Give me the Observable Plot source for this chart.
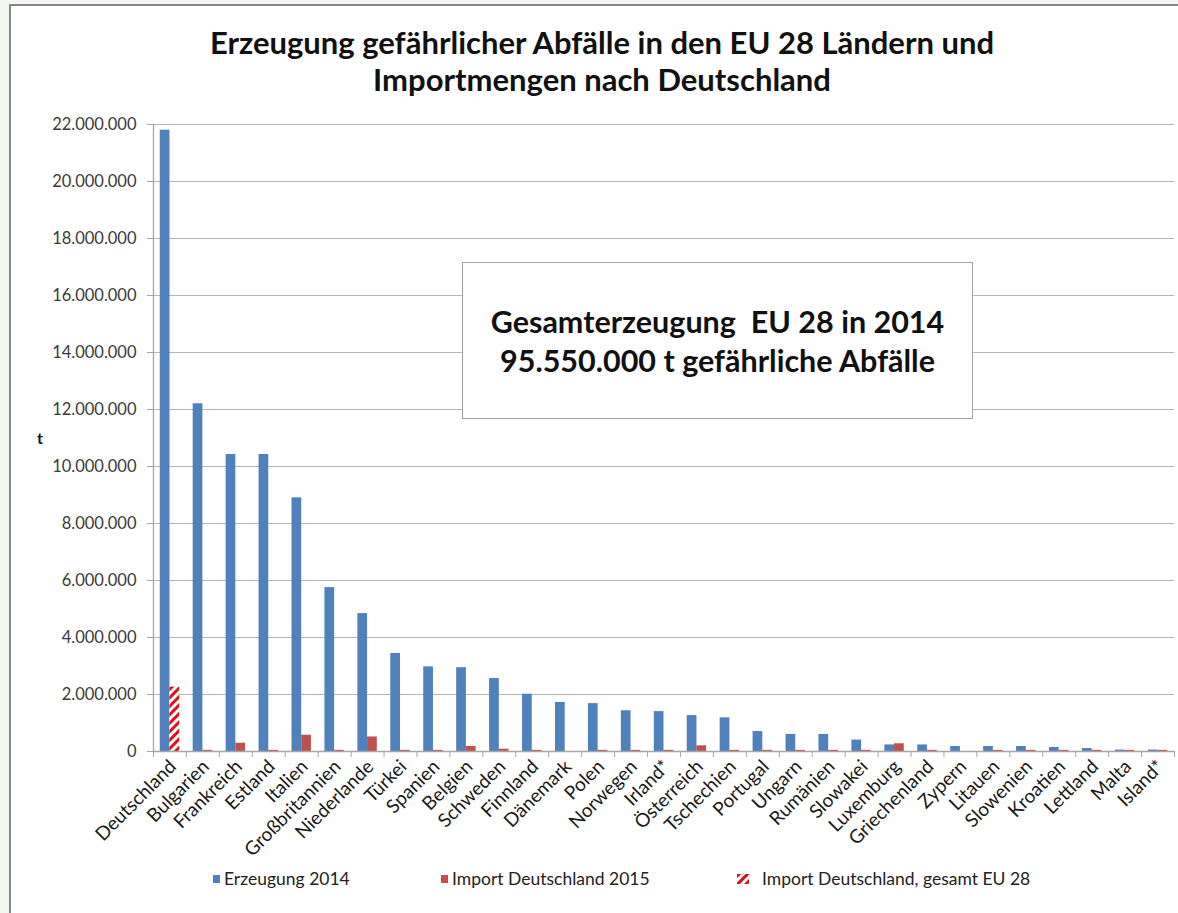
<!DOCTYPE html>
<html><head><meta charset="utf-8">
<script src="https://cdn.jsdelivr.net/npm/d3@7"></script>
<script src="https://cdn.jsdelivr.net/npm/@observablehq/plot@0.6"></script>
<style>
body{margin:0;background:#f3f6f1;font-family:Lato,sans-serif}
#page{position:relative;width:1178px;height:913px;overflow:hidden}
#frame{position:absolute;left:9px;top:4px;width:1200px;height:920px;background:#fff;border-left:2px solid #868686;border-top:2px solid #868686}
#title{position:absolute;left:0;width:1204px;top:24px;text-align:center;font-weight:700;font-size:31px;line-height:37px;color:#111}
#chart{position:absolute;left:0;top:110px}
#ylab{position:absolute;left:37px;top:428px;font-weight:700;font-size:16px;color:#111}
#box{position:absolute;left:462px;top:262px;width:509px;height:155px;border:1px solid #a0a0a0;background:#fff;box-sizing:content-box;display:flex;flex-direction:column;justify-content:center;align-items:center;font-weight:700;font-size:30.5px;line-height:39px;color:#111}
#legend{position:absolute;top:868px;left:0;width:1178px;height:24px;font-size:17.5px;color:#222}
.li{position:absolute;top:0;display:flex;align-items:center;white-space:nowrap}
.sw{display:inline-block;width:7px;height:8px;margin-right:4px}
</style></head>
<body><div id="page">
<div id="frame"></div>
<div id="title">Erzeugung gefährlicher Abfälle in den EU 28 Ländern und<br>Importmengen nach Deutschland</div>
<div id="chart"></div>
<div id="ylab">t</div>
<div id="box"><div>Gesamterzeugung&nbsp; EU 28 in 2014</div><div>95.550.000 t gefährliche Abfälle</div></div>
<div id="legend"></div>
</div>
<script>
const countries = ["Deutschland","Bulgarien","Frankreich","Estland","Italien","Großbritannien","Niederlande","Türkei","Spanien","Belgien","Schweden","Finnland","Dänemark","Polen","Norwegen","Irland*","Österreich","Tschechien","Portugal","Ungarn","Rumänien","Slowakei","Luxemburg","Griechenland","Zypern","Litauen","Slowenien","Kroatien","Lettland","Malta","Island*"];
const erzeugung2014 = [21800000,12200000,10420000,10420000,8900000,5750000,4840000,3440000,2970000,2940000,2560000,2010000,1720000,1680000,1430000,1400000,1260000,1180000,700000,600000,600000,400000,230000,230000,175000,175000,175000,140000,105000,50000,50000];
const import2015 = [null,40000,290000,40000,570000,40000,510000,40000,40000,175000,80000,40000,0,40000,40000,40000,200000,40000,40000,40000,40000,40000,270000,40000,0,40000,40000,40000,40000,40000,40000];
const importGesamtEU28 = [2260000];
const yTicks = [0,2000000,4000000,6000000,8000000,10000000,12000000,14000000,16000000,18000000,20000000,22000000];
const seriesNames = ["Erzeugung 2014","Import Deutschland 2015","Import Deutschland, gesamt EU 28"];
const colors = ["#4f81bd","#c0504d","#e01010"];

const rows = countries.map((c,i)=>({country:c, erz:erzeugung2014[i], imp:import2015[i]}));
const hatchRows = importGesamtEU28.map((v,i)=>({country:countries[i], v}));
const fmt = d3.formatLocale({decimal:",",thousands:".",grouping:[3],currency:["",""]}).format(",.0f");

const W = 1178, ML = 153, MR = 4;
const step = (W-ML-MR)/countries.length;
const barW = step*0.295;
const inner = step/2 - barW;

const plot = Plot.plot({
  width:W, height:750, marginTop:14, marginBottom:109, marginLeft:ML, marginRight:MR,
  style:{fontFamily:"Lato, sans-serif", fontSize:"16px", background:"transparent", overflow:"visible"},
  x:{domain:countries, padding:0, round:false, label:null},
  y:{domain:[0,22000000], label:null},
  marks:[
    Plot.gridY(yTicks.slice(1), {stroke:"#b5b5b5", strokeOpacity:1}),
    Plot.axisY(yTicks, {tickSize:6, tickPadding:11, tickFormat:fmt, stroke:"#a6a6a6", fill:"#3a3a3a", label:null, fontSize:16.5}),
    Plot.axisX(countries, {tickSize:6, text:null, dx:-step/2, stroke:"#a6a6a6", label:null}),
    Plot.axisX([countries[countries.length-1]], {tickSize:6, text:null, dx:step/2, stroke:"#a6a6a6", label:null}),
    Plot.axisX(countries, {tickSize:0, tickRotate:-45, tickPadding:12, dx:3, fill:"#1a1a1a", label:null, fontSize:19}),
    Plot.barY(rows, {x:"country", y:"erz", fill:colors[0], insetLeft:inner, insetRight:step/2}),
    Plot.barY(rows.filter(d=>d.imp!=null), {x:"country", y:"imp", fill:colors[1], insetLeft:step/2, insetRight:inner}),
    Plot.barY(hatchRows, {x:"country", y:"v", fill:"url(#hatch)", insetLeft:step/2, insetRight:inner}),
    Plot.ruleY([0], {stroke:"#a6a6a6", strokeWidth:1.3}),
    Plot.frame({anchor:"left", stroke:"#a6a6a6", strokeWidth:1.3})
  ]
});
const defs = d3.select(plot).insert("defs", ":first-child");
const pat = defs.append("pattern").attr("id","hatch").attr("patternUnits","userSpaceOnUse")
  .attr("width",6).attr("height",6).attr("patternTransform","rotate(45)");
pat.append("rect").attr("width",6).attr("height",6).attr("fill","#fff");
pat.append("rect").attr("width",3).attr("height",6).attr("fill",colors[2]);
document.getElementById("chart").appendChild(plot);

const leg = document.getElementById("legend");
const pos = [213, 441, 737];
seriesNames.forEach((n,i)=>{
  const el = document.createElement("div");
  el.className = "li"; el.style.left = pos[i]+"px";
  if (i<2) {
    el.innerHTML = `<span class="sw" style="background:${colors[i]}"></span>${n}`;
  } else {
    el.innerHTML = `<svg width="12" height="10" style="margin-right:13px"><rect width="12" height="10" fill="url(#hatch)"/></svg>${n}`;
  }
  leg.appendChild(el);
});
</script>
</body></html>
